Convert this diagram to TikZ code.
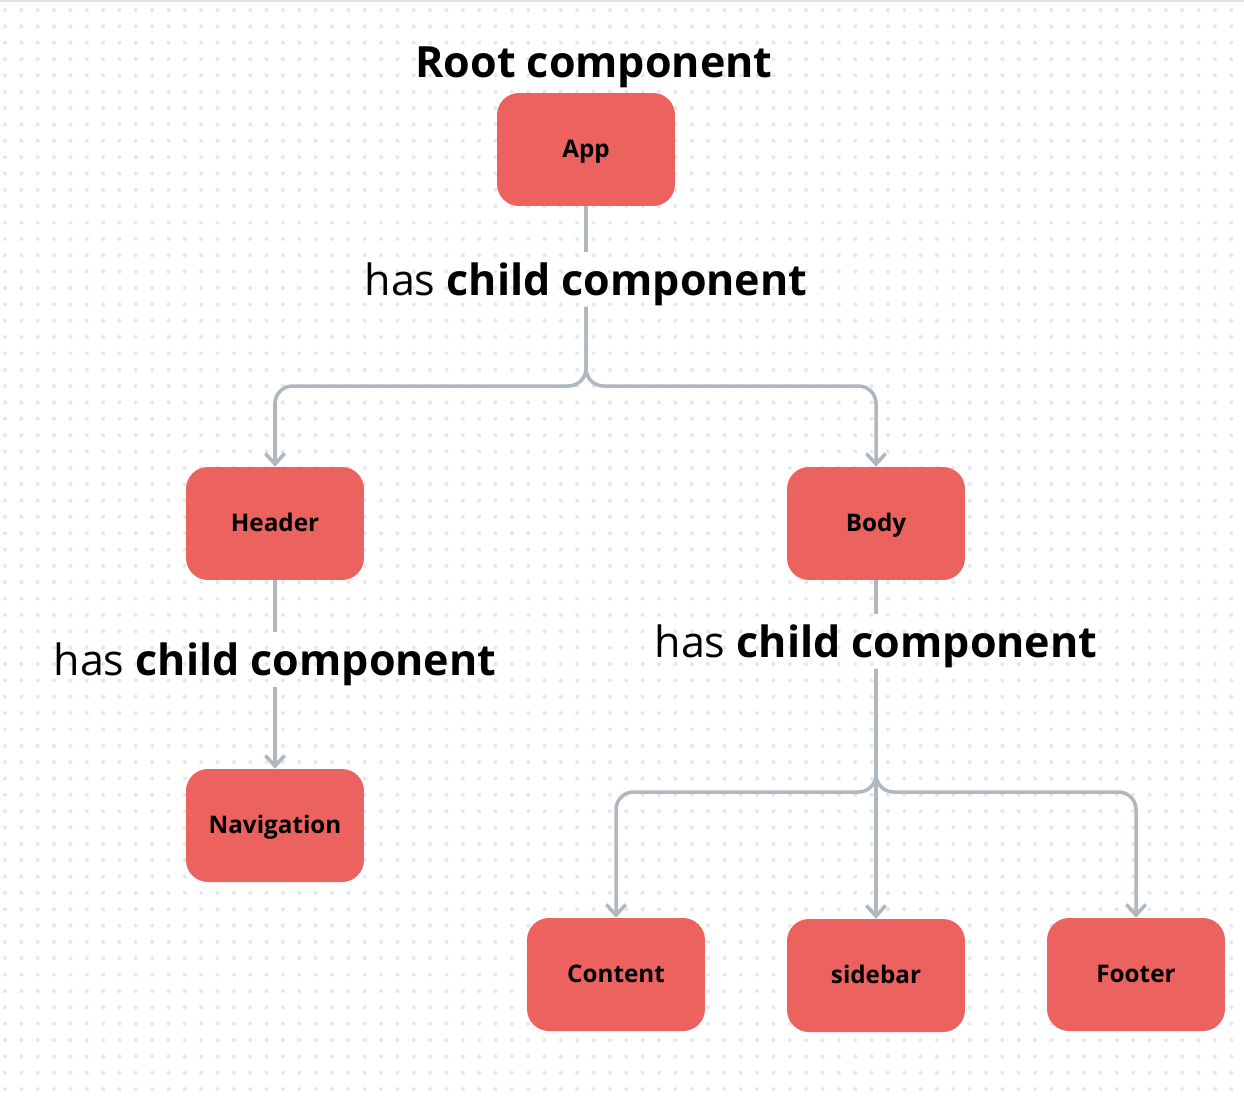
\documentclass[tikz,border=0pt]{standalone}
\usepackage{fontspec}
\setmainfont{Open Sans}
\usetikzlibrary{arrows.meta}
\definecolor{boxred}{HTML}{EC625F}
\definecolor{linegray}{HTML}{AFB8BF}
\definecolor{dotgray}{HTML}{E6E6EE}
\definecolor{rulegray}{HTML}{E1E1E7}
\begin{document}
\begin{tikzpicture}[x=0.02cm,y=-0.02cm,
    comp/.style={fill=boxred, rounded corners=0.44cm, minimum width=3.56cm,
        minimum height=2.26cm, inner sep=0pt, text height=9pt, text depth=0pt,
        font=\fontsize{13.8}{16}\selectfont\bfseries},
    haslabel/.style={anchor=base, inner xsep=2pt, inner ysep=0pt, text height=24pt,
        text depth=6.5pt, font=\fontsize{24.5}{29}\selectfont},
    conn/.style={draw=linegray, line width=2pt, rounded corners=10pt},
    arr/.style={conn, -{Straight Barb[length=6pt,width=11pt]}}
]
    % background
    \useasboundingbox (0,0) rectangle (1244,1096);
    \fill[white] (0,0) rectangle (1244,1096);
    \foreach \i in {0,...,75}
        \foreach \j in {0,...,66}
            \fill[dotgray] (5+16.35*\i,10+16.35*\j) circle[radius=1.15pt];
    \fill[rulegray] (0,0) rectangle (1244,2);

    % title and components
    \node[anchor=base, inner sep=0pt, font=\fontsize{24.5}{29}\selectfont\bfseries] (title) at (594,77) {Root component};
    \node[comp] (app) at (586,149.5) {App};
    \node[comp] (header) at (275,523.5) {Header};
    \node[comp] (body) at (876,523.5) {Body};
    \node[comp] (nav) at (275,825.5) {Navigation};
    \node[comp] (content) at (616,974.5) {Content};
    \node[comp] (sidebar) at (876,975.5) {sidebar};
    \node[comp] (footer) at (1136,974.5) {Footer};

    % relation labels
    \node[haslabel] (hasA) at (586,295) {has \textbf{child component}};
    \node[haslabel] (hasB) at (275,675) {has \textbf{child component}};
    \node[haslabel] (hasC) at (876,657) {has \textbf{child component}};

    \coordinate (splitA) at (586,386);
    \coordinate (splitC) at (876,792);

    % App -> Header, Body
    \draw[conn] (app.south) -- (hasA.north);
    \draw[arr] (hasA.south) -- (splitA) -| (header.north);
    \draw[arr] (hasA.south) -- (splitA) -| (body.north);

    % Header -> Navigation
    \draw[conn] (header.south) -- (hasB.north);
    \draw[arr] (hasB.south) -- (nav.north);

    % Body -> Content, sidebar, Footer
    \draw[conn] (body.south) -- (hasC.north);
    \draw[arr] (hasC.south) -- (splitC) -| (content.north);
    \draw[arr] (hasC.south) -- (sidebar.north);
    \draw[arr] (hasC.south) -- (splitC) -| (footer.north);
\end{tikzpicture}
\end{document}
